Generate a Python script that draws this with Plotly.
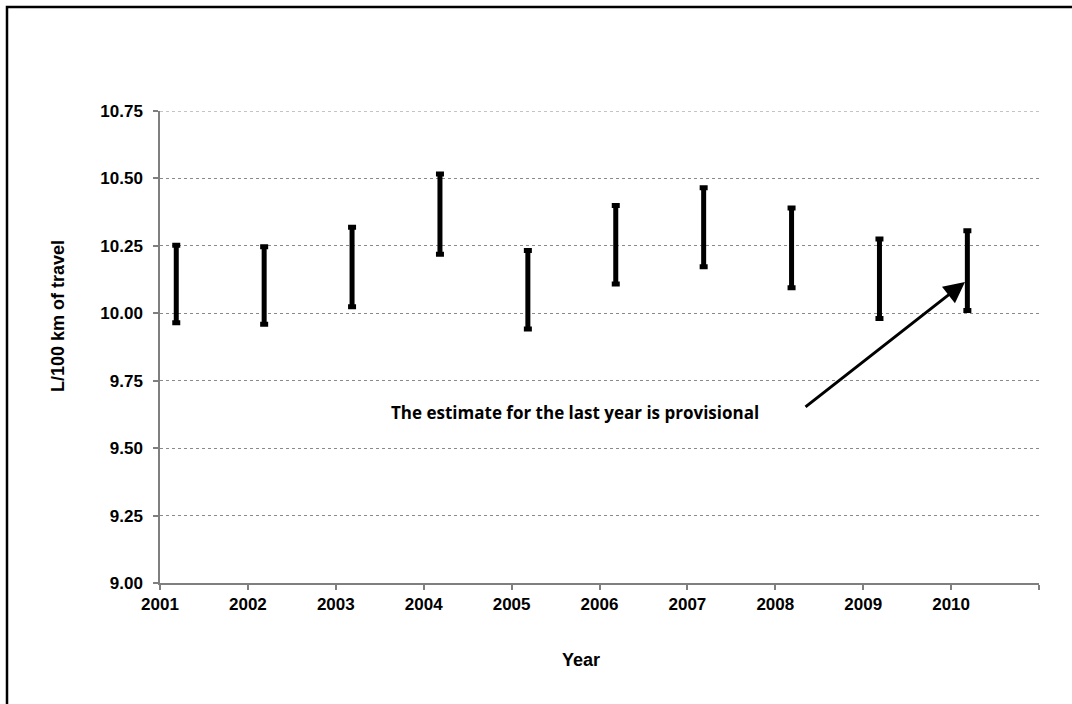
import plotly.graph_objects as go

# Annual interval estimates of fuel consumption (L/100 km)
years = [2001, 2002, 2003, 2004, 2005, 2006, 2007, 2008, 2009, 2010]
upper = [10.252, 10.247, 10.319, 10.516, 10.233, 10.400, 10.465, 10.390, 10.275, 10.306]
lower = [9.965, 9.959, 10.024, 10.219, 9.942, 10.109, 10.173, 10.095, 9.981, 10.010]

y_ticks = [9.00, 9.25, 9.50, 9.75, 10.00, 10.25, 10.50, 10.75]
x_ticks = [2001, 2002, 2003, 2004, 2005, 2006, 2007, 2008, 2009, 2010, 2011]
x_labels = ["2001", "2002", "2003", "2004", "2005", "2006", "2007", "2008", "2009", "2010", ""]

note_text = "The estimate for the last year is provisional"

W, H = 1072, 704
L, R, T, B = 160, 33, 111, 121
plot_w = W - L - R
plot_h = H - T - B

def px_x(px):
    return (px - L) / plot_w

def px_y(py):
    return (H - B - py) / plot_h

# interval marks sit a little after the start of each year
offset = 0.185
xs = [y + offset for y in years]
mids = [(u + l) / 2 for u, l in zip(upper, lower)]
halves = [(u - l) / 2 for u, l in zip(upper, lower)]

axis_font = dict(family="Liberation Sans, Arial, sans-serif", size=17, color="black", weight="bold")
title_font = dict(family="Liberation Sans, Arial, sans-serif", size=18, color="black", weight="bold")

fig = go.Figure()
fig.add_trace(go.Scatter(
    x=xs, y=mids, mode="markers",
    marker=dict(size=1, color="rgba(0,0,0,0)"),
    error_y=dict(type="data", array=halves, symmetric=True,
                 color="black", thickness=5, width=4),
    showlegend=False, hoverinfo="skip",
))

# arrow tip and tail in page pixels
tip = (965, 282)
tail = (804, 408)

fig.update_layout(
    width=W, height=H,
    margin=dict(l=L, r=R, t=T, b=B, pad=0),
    paper_bgcolor="white", plot_bgcolor="white",
    xaxis=dict(
        range=[2001, 2011], tickmode="array", tickvals=x_ticks, ticktext=x_labels,
        ticks="outside", ticklen=5, tickwidth=1.5, tickcolor="#7f7f7f",
        showline=True, linecolor="#7f7f7f", linewidth=1.5,
        showgrid=False, zeroline=False, tickfont=axis_font,
    ),
    yaxis=dict(
        range=[9.0, 10.75], tickmode="array", tickvals=y_ticks,
        ticktext=[f"{v:.2f}" for v in y_ticks],
        ticks="outside", ticklen=5, tickwidth=1.5, tickcolor="#7f7f7f",
        ticklabelstandoff=7,
        showline=True, linecolor="#7f7f7f", linewidth=1.5,
        showgrid=True, gridcolor="#8a8a8a", gridwidth=1, griddash="dot",
        zeroline=False, tickfont=axis_font,
    ),
    shapes=[
        # top gridline at the upper end of the value range
        dict(type="line", xref="paper", yref="y", x0=0, x1=1, y0=y_ticks[-1], y1=y_ticks[-1],
             line=dict(color="#8a8a8a", width=1, dash="dot"), layer="below"),
        # outer frame
        dict(type="rect", xref="paper", yref="paper",
             x0=px_x(7), x1=px_x(1085), y0=px_y(715), y1=px_y(7),
             line=dict(color="black", width=2.5), fillcolor="rgba(0,0,0,0)", layer="above"),
    ],
    annotations=[
        dict(text="L/100 km of travel", xref="paper", yref="paper",
             x=px_x(58), y=px_y(316), xanchor="center", yanchor="middle",
             textangle=-90, showarrow=False, font=title_font),
        dict(text="Year", xref="paper", yref="paper",
             x=px_x(581), y=px_y(660), xanchor="center", yanchor="middle",
             showarrow=False, font=title_font),
        dict(text=note_text, xref="paper", yref="paper",
             x=px_x(575), y=px_y(412), xanchor="center", yanchor="middle",
             showarrow=False,
             font=dict(family="Open Sans, sans-serif", size=17, color="black", weight="bold")),
        dict(text="", xref="paper", yref="paper",
             x=px_x(tip[0]), y=px_y(tip[1]),
             ax=tail[0] - tip[0], ay=tail[1] - tip[1],
             axref="pixel", ayref="pixel",
             showarrow=True, arrowhead=2, arrowsize=1.4, arrowwidth=3, arrowcolor="black",
             standoff=0, startstandoff=0),
    ],
)

fig.write_html("out.html")
